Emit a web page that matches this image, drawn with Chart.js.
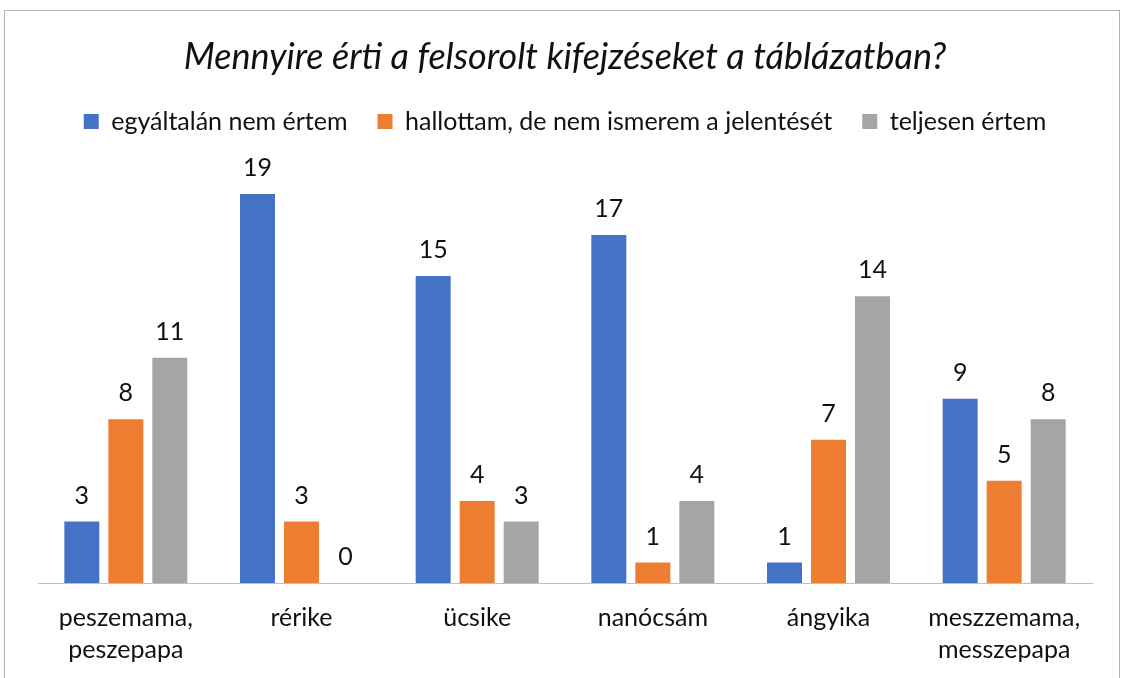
<!DOCTYPE html>
<html>
<head>
<meta charset="utf-8">
<script src="https://cdn.jsdelivr.net/npm/chart.js@4.4.1/dist/chart.umd.min.js"></script>
<style>
  html, body { margin: 0; padding: 0; background: #ffffff; }
  #wrap { position: relative; width: 1123px; height: 678px; overflow: hidden; }
  #frame { position: absolute; left: 4px; top: 10px; width: 1114px; height: 700px;
           border: 1px solid #b4b4b4; border-bottom: none; pointer-events: none; }
  canvas { position: absolute; left: 0; top: 0; }
</style>
</head>
<body>
<div id="wrap">
  <canvas id="c" width="1123" height="678"></canvas>
  <div id="frame"></div>
</div>
<script>
const categories = [
  ["peszemama,", "peszepapa"],
  "rérike",
  "ücsike",
  "nanócsám",
  "ángyika",
  ["meszzemama,", "messzepapa"]
];
const seriesNames = [
  "egyáltalán nem értem",
  "hallottam, de nem ismerem a jelentését",
  "teljesen értem"
];
const notUnderstood = [3, 19, 15, 17, 1, 9];
const heardNotKnown = [8, 3, 4, 1, 7, 5];
const fullyUnderstood = [11, 0, 3, 4, 14, 8];
const titleText = "Mennyire érti a felsorolt kifejzéseket a táblázatban?";

const FONT = "Lato, 'Open Sans', sans-serif";
const TEXT = "#111111";

const valueLabels = {
  id: 'valueLabels',
  afterDatasetsDraw(chart) {
    const ctx = chart.ctx;
    ctx.save();
    ctx.font = "25px " + FONT;
    ctx.fillStyle = TEXT;
    ctx.textAlign = 'center';
    ctx.textBaseline = 'middle';
    chart.data.datasets.forEach((ds, i) => {
      const meta = chart.getDatasetMeta(i);
      meta.data.forEach((bar, j) => {
        ctx.fillText(String(ds.data[j]), bar.x, bar.y - 26);
      });
    });
    ctx.restore();
  }
};

const legendSpace = {
  id: 'legendSpace',
  beforeInit(chart) {
    const orig = chart.legend.fit;
    chart.legend.fit = function () {
      orig.call(this);
      this.height = 94.5;
    };
  }
};

new Chart(document.getElementById('c'), {
  type: 'bar',
  data: {
    labels: categories,
    datasets: [
      { label: seriesNames[0], data: notUnderstood, backgroundColor: '#4472C4' },
      { label: seriesNames[1], data: heardNotKnown, backgroundColor: '#ED7D31' },
      { label: seriesNames[2], data: fullyUnderstood, backgroundColor: '#A5A5A5' }
    ]
  },
  options: {
    responsive: false,
    animation: false,
    devicePixelRatio: 1,
    layout: { padding: { left: 38, right: 31, top: 0, bottom: 0 } },
    datasets: { bar: { categoryPercentage: 0.7514, barPercentage: 0.795 } },
    plugins: {
      title: {
        display: true,
        text: titleText,
        color: TEXT,
        font: { family: FONT, size: 36, style: 'italic', weight: 'normal', lineHeight: 1.0 },
        padding: { top: 39, bottom: 4 }
      },
      legend: {
        display: true,
        position: 'top',
        labels: {
          color: TEXT,
          font: { family: FONT, size: 25 },
          boxWidth: 15,
          boxHeight: 15,
          padding: 30
        }
      },
      tooltip: { enabled: false }
    },
    scales: {
      x: {
        grid: { display: false, drawTicks: false },
        border: { display: true, color: '#bfbfbf', width: 1 },
        ticks: {
          color: TEXT,
          padding: 19,
          maxRotation: 0,
          autoSkip: false,
          font: { family: FONT, size: 25, lineHeight: 1.28 }
        },
        afterFit(scale) { scale.height = 95; }
      },
      y: {
        display: false,
        min: 0,
        max: 20
      }
    }
  },
  plugins: [valueLabels, legendSpace]
});
</script>
</body>
</html>
